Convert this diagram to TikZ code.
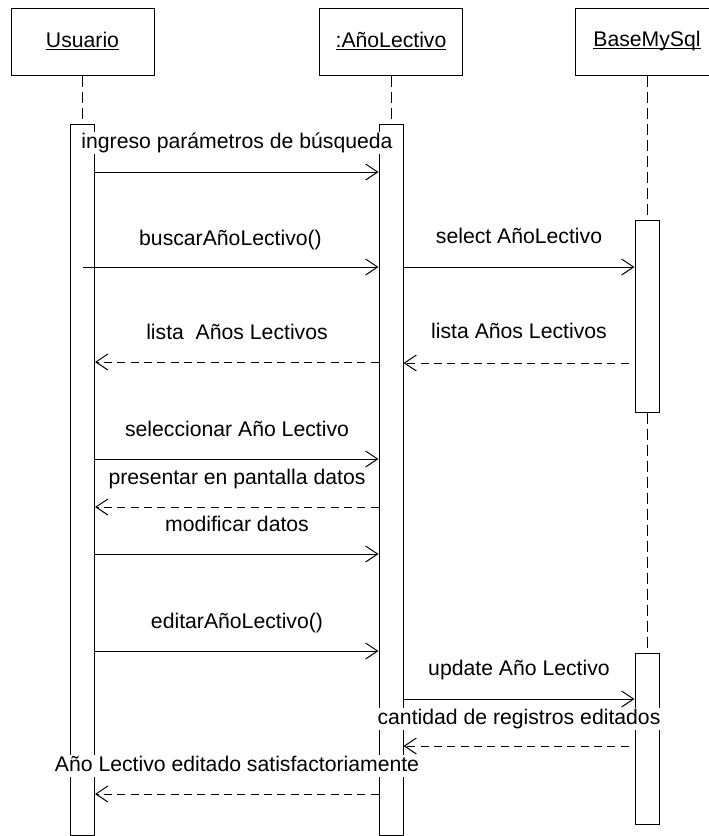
\documentclass[tikz,border=0pt]{standalone}
\usepackage{fontspec}
\setmainfont{Liberation Sans}
\usetikzlibrary{positioning,arrows.meta}

\newcommand{\headname}[1]{\setbox0=\hbox{#1}\rlap{\rule[-1.8pt]{\wd0}{0.75pt}}\box0}

\begin{document}
\begin{tikzpicture}[
    x=0.75pt, y=-0.75pt,
    font=\fontsize{15.9}{19}\selectfont,
    line width=0.75pt,
    head/.style={draw, minimum width=107.25pt, minimum height=50.25pt, inner sep=0pt},
    act/.style={draw, fill=white, minimum width=18pt, inner sep=0pt},
    life/.style={draw, dash pattern=on 8.25pt off 3.75pt},
    msg/.style={-{Straight Barb[length=9pt,width=12pt]}},
    ret/.style={msg, dash pattern=on 6pt off 4pt},
    lbl/.style={fill=white, inner sep=1pt, text height=11.5pt, text depth=3.4pt}
  ]
    \useasboundingbox (0,0) rectangle (709,836);
    \clip (0,0) rectangle (709,836);

    % cabeceras
    \node[head] (usr) at (82.5,41.5) {\headname{Usuario}};
    \node[head] (alc) at (391,41.5) {\headname{:AñoLectivo}};
    \node[head] (db) at (647,41.5) {\headname{BaseMySql}};

    % barras de activacion
    \node[act, minimum height=533.25pt, below=36pt of usr] (usrbar) {};
    \node[act, minimum height=533.25pt, below=36pt of alc] (alcbar) {};
    \node[act, minimum height=144pt, below=108pt of db] (dbbar1) {};
    \node[act, minimum height=128.25pt, below=180pt of dbbar1] (dbbar2) {};

    % lineas de vida
    \draw[life] (usr) -- (usrbar);
    \draw[life] (alc) -- (alcbar);
    \draw[life] (db) -- (dbbar1);
    \draw[life] (dbbar1) -- (dbbar2);

    % mensajes
    \node[lbl] (ingreso) at (237,143) {ingreso parámetros de búsqueda};
    \draw[msg] (usrbar.east |- 0,172) -- (alcbar.west |- 0,172);

    \node[lbl] (buscar) at (230.5,240) {buscarAñoLectivo()};
    \draw[msg] (usrbar.center |- 0,267) -- (alcbar.west |- 0,267);

    \node[lbl] (select) at (519,238) {select AñoLectivo};
    \draw[msg] (alcbar.east |- 0,267) -- (dbbar1.west |- 0,267);

    \node[lbl] (listadb) at (519,333) {lista Años Lectivos};
    \draw[ret, shorten <=4.5pt] (dbbar1.west |- 0,363) -- (alcbar.east |- 0,363);

    \node[lbl] (lista) at (237,334) {lista\ \ Años Lectivos};
    \draw[ret] (alcbar.west |- 0,362) -- (usrbar.east |- 0,362);

    \node[lbl] (selecc) at (237,431) {seleccionar Año Lectivo};
    \draw[msg] (usrbar.east |- 0,459) -- (alcbar.west |- 0,459);

    \node[lbl] (present) at (237,479) {presentar en pantalla datos};
    \draw[ret] (alcbar.west |- 0,507) -- (usrbar.east |- 0,507);

    \node[lbl] (modif) at (237,526) {modificar datos};
    \draw[msg] (usrbar.east |- 0,554) -- (alcbar.west |- 0,554);

    \node[lbl] (editar) at (237,623) {editarAñoLectivo()};
    \draw[msg] (usrbar.east |- 0,651) -- (alcbar.west |- 0,651);

    \node[lbl] (update) at (519,670) {update Año Lectivo};
    \draw[msg] (alcbar.east |- 0,699) -- (dbbar2.west |- 0,699);

    \node[lbl] (cantidad) at (519,719) {cantidad de registros editados};
    \draw[ret, shorten <=4.5pt] (dbbar2.west |- 0,746) -- (alcbar.east |- 0,746);

    \node[lbl] (satisf) at (237,766) {Año Lectivo editado satisfactoriamente};
    \draw[ret] (alcbar.west |- 0,794) -- (usrbar.east |- 0,794);
  \end{tikzpicture}
\end{document}
